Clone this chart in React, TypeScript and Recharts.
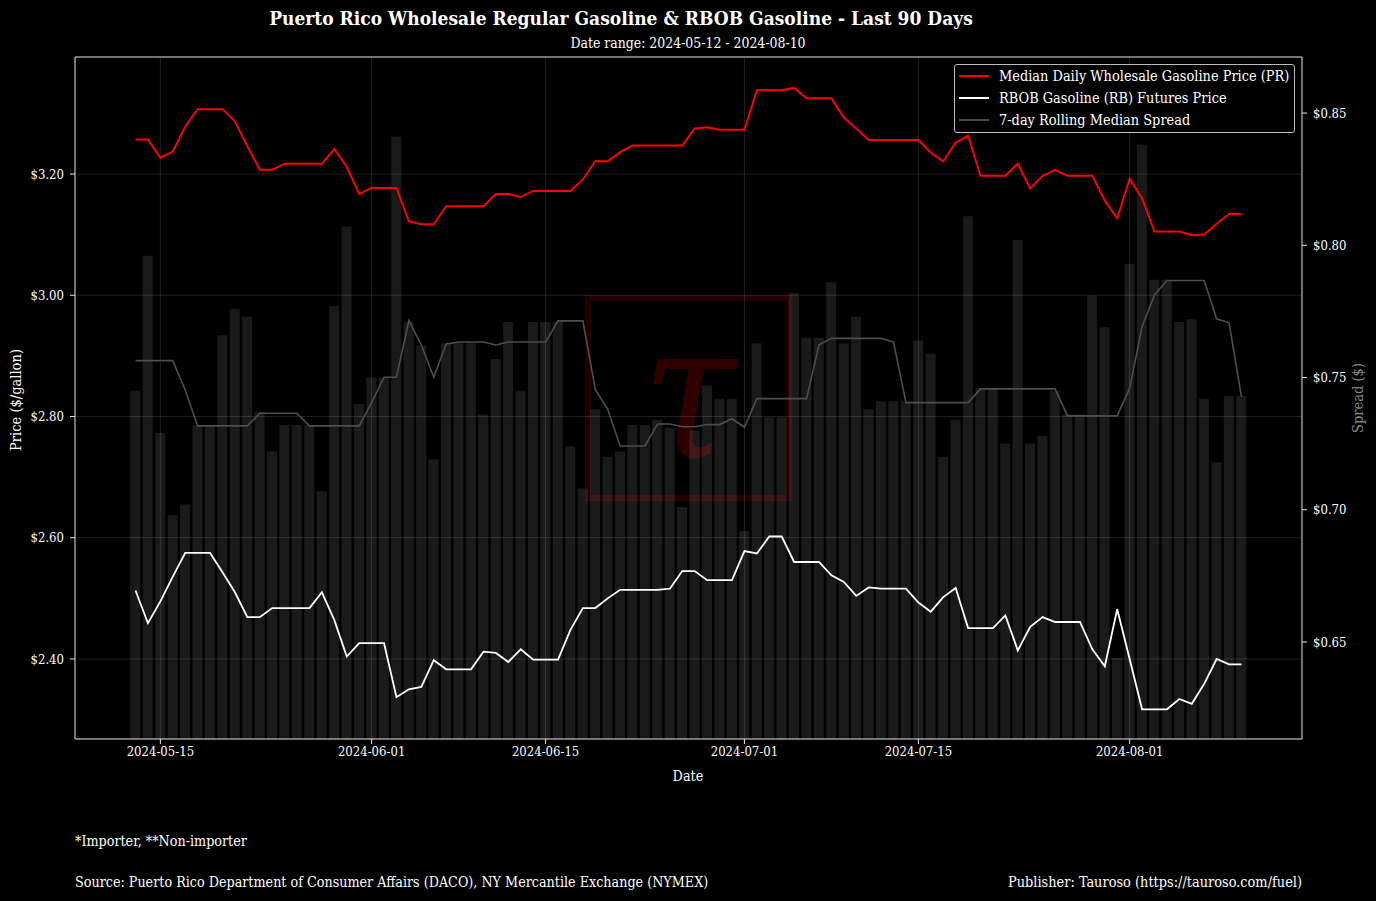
import React from 'react';
import { ComposedChart, Bar, Line, XAxis, YAxis, CartesianGrid, ReferenceLine } from 'recharts';

const DATES = [
  '2024-05-13','2024-05-14','2024-05-15','2024-05-16','2024-05-17','2024-05-18','2024-05-19','2024-05-20','2024-05-21','2024-05-22',
  '2024-05-23','2024-05-24','2024-05-25','2024-05-26','2024-05-27','2024-05-28','2024-05-29','2024-05-30','2024-05-31','2024-06-01',
  '2024-06-02','2024-06-03','2024-06-04','2024-06-05','2024-06-06','2024-06-07','2024-06-08','2024-06-09','2024-06-10','2024-06-11',
  '2024-06-12','2024-06-13','2024-06-14','2024-06-15','2024-06-16','2024-06-17','2024-06-18','2024-06-19','2024-06-20','2024-06-21',
  '2024-06-22','2024-06-23','2024-06-24','2024-06-25','2024-06-26','2024-06-27','2024-06-28','2024-06-29','2024-06-30','2024-07-01',
  '2024-07-02','2024-07-03','2024-07-04','2024-07-05','2024-07-06','2024-07-07','2024-07-08','2024-07-09','2024-07-10','2024-07-11',
  '2024-07-12','2024-07-13','2024-07-14','2024-07-15','2024-07-16','2024-07-17','2024-07-18','2024-07-19','2024-07-20','2024-07-21',
  '2024-07-22','2024-07-23','2024-07-24','2024-07-25','2024-07-26','2024-07-27','2024-07-28','2024-07-29','2024-07-30','2024-07-31',
  '2024-08-01','2024-08-02','2024-08-03','2024-08-04','2024-08-05','2024-08-06','2024-08-07','2024-08-08','2024-08-09','2024-08-10',
];

const PR_PRICE = [
  3.257, 3.257, 3.227, 3.237, 3.278, 3.307, 3.307, 3.307, 3.287, 3.246,
  3.207, 3.207, 3.217, 3.217, 3.217, 3.217, 3.241, 3.212, 3.167, 3.177,
  3.177, 3.177, 3.122, 3.117, 3.117, 3.147, 3.147, 3.147, 3.147, 3.167,
  3.167, 3.162, 3.172, 3.172, 3.172, 3.172, 3.191, 3.221, 3.221, 3.236,
  3.247, 3.247, 3.247, 3.247, 3.247, 3.275, 3.277, 3.273, 3.273, 3.273,
  3.338, 3.338, 3.338, 3.342, 3.325, 3.325, 3.325, 3.293, 3.275, 3.256,
  3.256, 3.256, 3.256, 3.256, 3.235, 3.221, 3.252, 3.263, 3.197, 3.197,
  3.197, 3.217, 3.176, 3.197, 3.207, 3.197, 3.197, 3.197, 3.156, 3.127,
  3.192, 3.160, 3.105, 3.105, 3.105, 3.099, 3.100, 3.118, 3.134, 3.134,
];

const RBOB_PRICE = [
  2.513, 2.459, 2.495, 2.536, 2.575, 2.575, 2.575, 2.543, 2.510, 2.469,
  2.469, 2.484, 2.484, 2.484, 2.484, 2.510, 2.464, 2.404, 2.426, 2.426,
  2.426, 2.337, 2.350, 2.354, 2.398, 2.383, 2.383, 2.383, 2.412, 2.410,
  2.395, 2.416, 2.399, 2.399, 2.399, 2.448, 2.484, 2.484, 2.500, 2.514,
  2.514, 2.514, 2.514, 2.516, 2.545, 2.545, 2.530, 2.530, 2.530, 2.578,
  2.574, 2.602, 2.602, 2.560, 2.560, 2.560, 2.538, 2.527, 2.504, 2.518,
  2.516, 2.516, 2.516, 2.493, 2.478, 2.502, 2.517, 2.451, 2.451, 2.451,
  2.472, 2.414, 2.453, 2.469, 2.461, 2.461, 2.461, 2.416, 2.388, 2.482,
  2.400, 2.317, 2.317, 2.317, 2.334, 2.326, 2.359, 2.400, 2.391, 2.391,
];

const DAILY_SPREAD = [
  0.745, 0.796, 0.729, 0.698, 0.702, 0.732, 0.732, 0.766, 0.776, 0.773,
  0.737, 0.722, 0.732, 0.732, 0.732, 0.707, 0.777, 0.807, 0.740, 0.750,
  0.750, 0.841, 0.771, 0.762, 0.719, 0.763, 0.763, 0.763, 0.736, 0.757,
  0.771, 0.745, 0.771, 0.771, 0.771, 0.724, 0.708, 0.738, 0.720, 0.722,
  0.732, 0.732, 0.734, 0.731, 0.701, 0.730, 0.747, 0.742, 0.742, 0.692,
  0.763, 0.735, 0.735, 0.782, 0.765, 0.765, 0.786, 0.763, 0.773, 0.738,
  0.741, 0.741, 0.741, 0.764, 0.759, 0.720, 0.734, 0.811, 0.746, 0.746,
  0.725, 0.802, 0.725, 0.728, 0.745, 0.736, 0.736, 0.781, 0.769, 0.644,
  0.793, 0.838, 0.787, 0.787, 0.771, 0.772, 0.742, 0.718, 0.743, 0.743,
];

const ROLLING_SPREAD = [
  0.7564, 0.7564, 0.7564, 0.7564, 0.7453, 0.7317, 0.7317, 0.7317, 0.7317, 0.7317,
  0.7365, 0.7365, 0.7365, 0.7365, 0.7317, 0.7317, 0.7317, 0.7317, 0.7317, 0.7405,
  0.7501, 0.7501, 0.7715, 0.7623, 0.7501, 0.7627, 0.7634, 0.7634, 0.7634, 0.7623,
  0.7634, 0.7634, 0.7634, 0.7634, 0.7714, 0.7714, 0.7714, 0.7455, 0.7380, 0.7241,
  0.7241, 0.7241, 0.7324, 0.7324, 0.7314, 0.7314, 0.7322, 0.7322, 0.7344, 0.7312,
  0.7420, 0.7420, 0.7420, 0.7420, 0.7420, 0.7624, 0.7648, 0.7648, 0.7648, 0.7648,
  0.7648, 0.7634, 0.7405, 0.7405, 0.7405, 0.7405, 0.7405, 0.7405, 0.7457, 0.7457,
  0.7457, 0.7457, 0.7457, 0.7457, 0.7457, 0.7355, 0.7355, 0.7355, 0.7355, 0.7355,
  0.7459, 0.7692, 0.7812, 0.7867, 0.7867, 0.7867, 0.7867, 0.7722, 0.7707, 0.7427,
];

const X_TICK_LABELS = ['2024-05-15', '2024-06-01', '2024-06-15', '2024-07-01', '2024-07-15', '2024-08-01'];
const PRICE_TICKS = [2.4, 2.6, 2.8, 3.0, 3.2];
const SPREAD_TICKS = [0.65, 0.7, 0.75, 0.8, 0.85];
const PRICE_DOMAIN: [number, number] = [2.268, 3.393];
const SPREAD_DOMAIN: [number, number] = [0.6133, 0.8712];
const X_DOMAIN: [number, number] = [-4.87, 93.87];

const SERIES = [
  { key: 'pr', name: 'Median Daily Wholesale Gasoline Price (PR)', color: '#ff0000' },
  { key: 'rbob', name: 'RBOB Gasoline (RB) Futures Price', color: '#ffffff' },
  { key: 'rolling', name: '7-day Rolling Median Spread', color: '#4e4e4e' },
];

const TITLE = 'Puerto Rico Wholesale Regular Gasoline & RBOB Gasoline - Last 90 Days';
const SUBTITLE = 'Date range: 2024-05-12 - 2024-08-10';
const FOOTNOTE = '*Importer, **Non-importer';
const SOURCE = 'Source: Puerto Rico Department of Consumer Affairs (DACO), NY Mercantile Exchange (NYMEX)';
const PUBLISHER = 'Publisher: Tauroso (https://tauroso.com/fuel)';

const data = DATES.map((date, i) => ({
  x: i,
  date,
  pr: PR_PRICE[i],
  rbob: RBOB_PRICE[i],
  spread: DAILY_SPREAD[i],
  rolling: ROLLING_SPREAD[i],
}));

const xTicks = X_TICK_LABELS.map((d) => DATES.indexOf(d));

const FONT = "'DejaVu Serif Condensed', 'DejaVu Serif', serif";

const centered = (cx: number, cy: number, extra: React.CSSProperties = {}): React.CSSProperties => ({
  position: 'absolute',
  left: cx,
  top: cy,
  transform: 'translate(-50%, -50%)',
  whiteSpace: 'nowrap',
  lineHeight: 1,
  ...extra,
});

const leftText = (x: number, cy: number, size: number): React.CSSProperties => ({
  position: 'absolute',
  left: x,
  top: cy,
  transform: 'translateY(-50%)',
  fontSize: size,
  whiteSpace: 'nowrap',
  lineHeight: 1,
});

export default function App() {
  const tickStyle = { fill: '#ffffff', fontSize: 13, fontFamily: FONT };
  return (
    <div
      style={{
        position: 'absolute',
        left: 0,
        top: 0,
        width: 1376,
        height: 901,
        background: '#000000',
        color: '#ffffff',
        fontFamily: FONT,
        fontStretch: 'condensed',
        overflow: 'hidden',
      }}
    >
      {/* watermark */}
      <svg width={1376} height={901} style={{ position: 'absolute', left: 0, top: 0 }}>
        <rect x={588} y={298} width={201} height={200} fill="none" stroke="#230000" strokeWidth={6} />
        <text
          x={689}
          y={392}
          textAnchor="middle"
          dominantBaseline="central"
          fontSize={190}
          fontStyle="italic"
          fontFamily="'DejaVu Serif', serif"
          fill="#2e0000"
        >
          τ
        </text>
      </svg>

      <div style={{ position: 'absolute', left: 0, top: 0 }}>
        <ComposedChart width={1376} height={901} data={data} margin={{ top: 57, right: 0, bottom: 0, left: 0 }}>
          <CartesianGrid
            yAxisId="price"
            stroke="#ffffff"
            strokeOpacity={0.16}
            strokeWidth={0.8}
            horizontalValues={PRICE_TICKS}
            verticalValues={xTicks}
          />
          <XAxis
            dataKey="x"
            type="number"
            domain={X_DOMAIN}
            ticks={xTicks}
            interval={0}
            allowDataOverflow
            tickFormatter={(v: number) => DATES[v]}
            height={162}
            tickSize={5}
            tickMargin={3}
            stroke="#e6e6e6"
            tick={tickStyle}
          />
          <YAxis
            yAxisId="price"
            orientation="left"
            width={75}
            domain={PRICE_DOMAIN}
            ticks={PRICE_TICKS}
            allowDataOverflow
            tickFormatter={(v: number) => `$${v.toFixed(2)}`}
            tickSize={5}
            tickMargin={6}
            stroke="#e6e6e6"
            tick={tickStyle}
          />
          <YAxis
            yAxisId="spread"
            orientation="right"
            width={74}
            domain={SPREAD_DOMAIN}
            ticks={SPREAD_TICKS}
            allowDataOverflow
            tickFormatter={(v: number) => `$${v.toFixed(2)}`}
            tickSize={5}
            tickMargin={6}
            stroke="#e6e6e6"
            tick={tickStyle}
          />
          <ReferenceLine yAxisId="price" y={PRICE_DOMAIN[1]} stroke="#e6e6e6" strokeWidth={1} />
          <Bar
            yAxisId="spread"
            dataKey="spread"
            name="Daily Spread"
            fill="#ffffff"
            fillOpacity={0.1}
            barSize={10}
            isAnimationActive={false}
          />
          <Line
            yAxisId="spread"
            dataKey="rolling"
            name={SERIES[2].name}
            stroke={SERIES[2].color}
            strokeWidth={1.6}
            dot={false}
            isAnimationActive={false}
          />
          <Line
            yAxisId="price"
            dataKey="pr"
            name={SERIES[0].name}
            stroke={SERIES[0].color}
            strokeWidth={2}
            dot={false}
            isAnimationActive={false}
          />
          <Line
            yAxisId="price"
            dataKey="rbob"
            name={SERIES[1].name}
            stroke={SERIES[1].color}
            strokeWidth={1.8}
            dot={false}
            isAnimationActive={false}
          />
        </ComposedChart>
      </div>

      {/* legend */}
      <div
        style={{
          position: 'absolute',
          left: 954,
          top: 64,
          width: 341,
          height: 69,
          boxSizing: 'border-box',
          border: '1px solid #bdbdbd',
          borderRadius: 3,
          background: 'rgba(0,0,0,0.8)',
        }}
      >
        {SERIES.map((s, i) => (
          <div key={s.key} style={{ position: 'absolute', left: 0, top: i * 22, height: 22, width: '100%' }}>
            <div style={{ position: 'absolute', left: 4, top: 10, width: 30, height: 2, background: s.color }} />
            <div style={{ position: 'absolute', left: 44, top: 11, transform: 'translateY(-50%)', fontSize: 14.4, whiteSpace: 'nowrap', lineHeight: 1 }}>
              {s.name}
            </div>
          </div>
        ))}
      </div>

      {/* texts */}
      <div style={centered(621, 18, { fontSize: 19, fontWeight: 'bold' })}>{TITLE}</div>
      <div style={centered(688, 44, { fontSize: 13.9 })}>{SUBTITLE}</div>
      <div style={centered(688, 776, { fontSize: 14.3 })}>Date</div>
      <div style={centered(16, 400, { fontSize: 14.5, transform: 'translate(-50%, -50%) rotate(-90deg)' })}>Price ($/gallon)</div>
      <div style={centered(1358, 398, { fontSize: 14.5, color: '#8a8a8a', transform: 'translate(-50%, -50%) rotate(-90deg)' })}>Spread ($)</div>
      <div style={leftText(75, 841, 14.2)}>{FOOTNOTE}</div>
      <div style={leftText(75, 882, 14.2)}>{SOURCE}</div>
      <div style={{ ...leftText(0, 882, 14.4), left: undefined, right: 1376 - 1302 }}>{PUBLISHER}</div>
    </div>
  );
}
